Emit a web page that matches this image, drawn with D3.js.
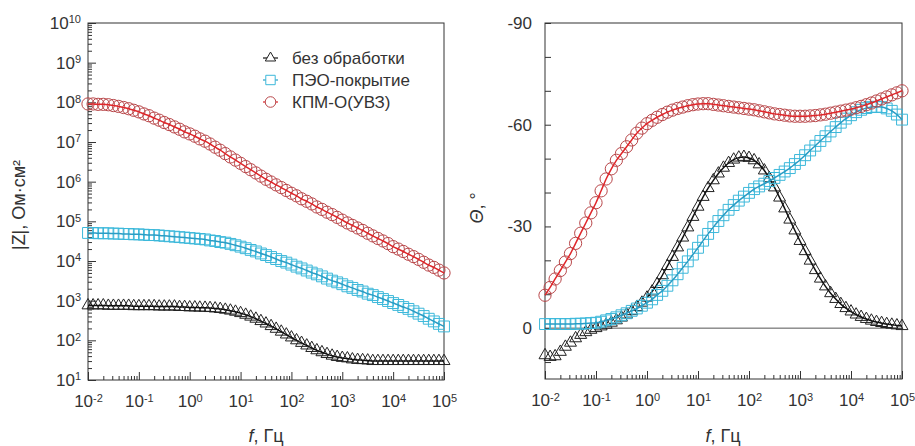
<!DOCTYPE html>
<html>
<head>
<meta charset="utf-8">
<script src="https://cdn.jsdelivr.net/npm/d3@7"></script>
<style>
  body { margin: 0; background: #fff; }
  svg { font-family: "Liberation Sans", Arial, sans-serif; }
  .frame { fill: none; stroke: #333; stroke-width: 1; }
  .axis path { stroke: none; }
  .axis line { stroke: #333; }
  .axis text { fill: #333; font-size: 17px; }
</style>
</head>
<body>
<svg id="chart" width="915" height="446"></svg>
<script>
// frequencies, Hz (10 points per decade)
var freq = [
  0.01, 0.0126, 0.0158, 0.02, 0.0251, 0.0316, 0.0398, 0.0501, 0.0631, 0.0794,
  0.1, 0.126, 0.158, 0.2, 0.251, 0.316, 0.398, 0.501, 0.631, 0.794,
  1, 1.26, 1.58, 2, 2.51, 3.16, 3.98, 5.01, 6.31, 7.94,
  10, 12.6, 15.8, 20, 25.1, 31.6, 39.8, 50.1, 63.1, 79.4,
  100, 126, 158, 200, 251, 316, 398, 501, 631, 794,
  1000, 1260, 1580, 2000, 2510, 3160, 3980, 5010, 6310, 7940,
  10000, 12600, 15800, 20000, 25100, 31600, 39800, 50100, 63100, 79400,
  100000
];

// |Z|, Ohm*cm2
var zBare = [
  760, 760, 760, 760, 740, 740, 740, 740, 740, 725,
  725, 725, 725, 725, 710, 710, 710, 710, 690, 690,
  675, 675, 665, 660, 650, 635, 615, 590, 560, 525,
  485, 440, 395, 350, 305, 265, 228, 195, 165, 140,
  118, 100, 86, 74, 64, 56, 50, 45, 41, 38,
  36, 35, 33, 32, 31.6, 31, 30, 30, 30, 30,
  30, 30, 30, 30, 30, 30, 30, 30, 30, 30,
  30
];
var zPeo = [
  5.1e4, 5.1e4, 5.0e4, 5.0e4, 5.0e4, 4.9e4, 4.9e4, 4.8e4, 4.8e4, 4.7e4,
  4.7e4, 4.6e4, 4.5e4, 4.5e4, 4.4e4, 4.3e4, 4.2e4, 4.1e4, 4.0e4, 3.9e4,
  3.8e4, 3.7e4, 3.6e4, 3.5e4, 3.3e4, 3.2e4, 3.0e4, 2.9e4, 2.7e4, 2.5e4,
  2.3e4, 2.1e4, 1.9e4, 1.74e4, 1.55e4, 1.41e4, 1.26e4, 1.12e4, 1.0e4, 9.1e3,
  8.1e3, 7.2e3, 6.5e3, 5.75e3, 5.1e3, 4.6e3, 4.1e3, 3.6e3, 3.2e3, 2.9e3,
  2.6e3, 2.3e3, 2.1e3, 1.86e3, 1.7e3, 1.5e3, 1.38e3, 1.23e3, 1.1e3, 980,
  870, 780, 690, 620, 540, 470, 410, 350, 300, 260,
  224
];
var zKpm = [
  9.1e7, 9.1e7, 8.9e7, 8.9e7, 8.7e7, 8.3e7, 7.9e7, 7.4e7, 6.9e7, 6.3e7,
  5.75e7, 5.1e7, 4.6e7, 4.0e7, 3.55e7, 3.1e7, 2.75e7, 2.4e7, 2.1e7, 1.8e7,
  1.6e7, 1.4e7, 1.2e7, 1.05e7, 8.9e6, 7.4e6, 6.2e6, 5.1e6, 4.2e6, 3.5e6,
  2.9e6, 2.4e6, 2.0e6, 1.66e6, 1.38e6, 1.15e6, 9.8e5, 8.3e5, 7.1e5, 6.0e5,
  5.1e5, 4.4e5, 3.7e5, 3.2e5, 2.75e5, 2.3e5, 2.0e5, 1.7e5, 1.48e5, 1.26e5,
  1.07e5, 9.1e4, 7.9e4, 6.8e4, 5.9e4, 5.0e4, 4.3e4, 3.7e4, 3.2e4, 2.75e4,
  2.3e4, 2.0e4, 1.74e4, 1.48e4, 1.29e4, 1.1e4, 9.3e3, 7.9e3, 6.9e3, 5.9e3,
  5.0e3
];

// phase angle, degrees
var phBare = [
  8.0, 8.5, 8.3, 7.0, 5.5, 4.3, 3.0, 2.0, 1.2, 0.5,
  0.0, -0.5, -1.0, -1.6, -2.3, -3.1, -4.0, -5.0, -6.2, -7.5,
  -9.0, -10.8, -13.0, -15.6, -18.3, -21.0, -23.8, -26.7, -29.7, -32.8,
  -35.8, -38.7, -41.3, -43.6, -45.6, -47.3, -48.7, -49.7, -50.3, -50.5,
  -50.2, -49.5, -48.3, -46.5, -44.2, -41.5, -38.5, -35.3, -32.0, -28.8,
  -25.7, -22.7, -19.9, -17.1, -14.6, -12.3, -10.3, -8.6, -7.1, -5.9,
  -4.9, -4.0, -3.3, -2.7, -2.2, -1.8, -1.5, -1.2, -1.0, -0.8,
  -0.6
];
var phPeo = [
  -1.2, -1.2, -1.2, -1.2, -1.2, -1.2, -1.3, -1.3, -1.4, -1.5,
  -1.6, -1.9, -2.3, -2.7, -3.2, -3.8, -4.4, -5.1, -5.8, -6.6,
  -7.5, -8.5, -9.8, -11.0, -12.5, -14.1, -15.9, -17.8, -19.7, -21.7,
  -23.7, -25.8, -27.8, -29.8, -31.6, -33.3, -34.9, -36.3, -37.6, -38.8,
  -39.9, -41.0, -41.8, -42.6, -43.4, -44.3, -45.2, -46.2, -47.2, -48.4,
  -49.6, -51.0, -52.4, -53.8, -55.2, -56.6, -58.0, -59.3, -60.6, -61.8,
  -62.8, -63.7, -64.4, -64.9, -65.2, -65.3, -65.2, -64.8, -64.1, -63.0,
  -61.5
];
var phKpm = [
  -9.7, -12, -14.5, -17, -19.5, -22, -25, -28, -31, -34,
  -37, -40.5, -44, -47, -49.5, -51.5, -53.5, -55.5, -57.5, -59,
  -60.3, -61.3, -62.2, -63, -63.7, -64.3, -64.8, -65.2, -65.6, -65.9,
  -66.1, -66.2, -66.2, -66.0, -65.8, -65.6, -65.4, -65.2, -65.0, -64.8,
  -64.6, -64.4, -64.1, -63.8, -63.5, -63.2, -63.0, -62.8, -62.6, -62.5,
  -62.5, -62.5, -62.6, -62.7, -62.9, -63.1, -63.4, -63.7, -64.0, -64.3,
  -64.6, -65.0, -65.4, -65.9, -66.4, -67.0, -67.6, -68.2, -68.8, -69.4,
  -70
];
var bareFitFrom = 0.8; // fit line of bare sample phase starts here (Hz)

var seriesNames = ["без обработки", "ПЭО-покрытие", "КПМ-О(УВЗ)"];

var xTicks = [1e-2, 1e-1, 1e0, 1e1, 1e2, 1e3, 1e4, 1e5];
var xTickExp = ["-2", "-1", "0", "1", "2", "3", "4", "5"];
var zTicks = [1e1, 1e2, 1e3, 1e4, 1e5, 1e6, 1e7, 1e8, 1e9, 1e10];
var zTickExp = ["1", "2", "3", "4", "5", "6", "7", "8", "9", "10"];
var phTicks = [-90, -60, -30, 0];
var phMinor = [-80, -70, -50, -40, -20, -10, 10];

var svg = d3.select("#chart");

var styles = [
  { sym: d3.symbolTriangle, size: 62, mark: "#222", line: "#111" },
  { sym: d3.symbolSquare, size: 118, mark: "#3cb8da", line: "#2a9cc4" },
  { sym: d3.symbolCircle, size: 118, mark: "#b9474a", line: "#e0262a" }
];

function supText(sel, exps) {
  sel.each(function(d, i) {
    var t = d3.select(this);
    t.text(null);
    t.append("tspan").text("10");
    t.append("tspan").attr("dy", "-0.5em").attr("font-size", 11).text(exps[i]);
  });
}

function panel(ox, oy, w, h) {
  var g = svg.append("g").attr("transform", "translate(" + ox + "," + oy + ")");
  var x = d3.scaleLog().domain([1e-2, 1e5]).range([0, w]);
  // bottom axis: majors with labels, minors without
  var xa = g.append("g").attr("class", "axis").attr("transform", "translate(0," + h + ")")
    .call(d3.axisBottom(x).tickValues(xTicks).tickSizeInner(-8).tickSizeOuter(0).tickPadding(15));
  supText(xa.selectAll(".tick text"), xTickExp);
  g.append("g").attr("class", "axis").attr("transform", "translate(0," + h + ")")
    .call(d3.axisBottom(x).tickValues(x.ticks().filter(function(v) { return xTicks.indexOf(v) < 0; }))
      .tickSizeInner(-4).tickSizeOuter(0).tickFormat(""));
  return { g: g, x: x };
}

// ---------- left panel: |Z| ----------
var L = panel(88, 23, 356, 357);
var yZ = d3.scaleLog().domain([10, 1e10]).range([357, 0]);
var ya = L.g.append("g").attr("class", "axis")
  .call(d3.axisLeft(yZ).tickValues(zTicks).tickSizeInner(-8).tickSizeOuter(0).tickPadding(7));
supText(ya.selectAll(".tick text"), zTickExp);
L.g.append("g").attr("class", "axis")
  .call(d3.axisLeft(yZ).tickValues(yZ.ticks().filter(function(v) { return zTicks.indexOf(v) < 0; }))
    .tickSizeInner(-4).tickSizeOuter(0).tickFormat(""));
L.g.append("rect").attr("class", "frame").attr("width", 356).attr("height", 357);

var zSeries = [zBare, zPeo, zKpm];
zSeries.forEach(function(vals, k) {
  var pts = freq.map(function(f, i) { return [f, vals[i]]; });
  var st = styles[k];
  L.g.append("g").selectAll("path").data(pts).enter().append("path")
    .attr("transform", function(d) { return "translate(" + L.x(d[0]) + "," + yZ(d[1]) + ")"; })
    .attr("d", d3.symbol(st.sym, st.size))
    .attr("fill", "none").attr("stroke", st.mark).attr("stroke-width", 1);
  L.g.append("path").datum(pts)
    .attr("fill", "none").attr("stroke", st.line).attr("stroke-width", 1.5)
    .attr("d", d3.line().curve(d3.curveMonotoneX)
      .x(function(d) { return L.x(d[0]); }).y(function(d) { return yZ(d[1]); }));
});

// legend
var leg = L.g.append("g").attr("transform", "translate(175,35)");
seriesNames.forEach(function(name, k) {
  var st = styles[k];
  var row = leg.append("g").attr("transform", "translate(0," + (k * 22) + ")");
  row.append("line").attr("x1", 0).attr("x2", 15).attr("stroke", st.line).attr("stroke-width", 1.2);
  row.append("path").attr("transform", "translate(7.5,0)").attr("d", d3.symbol(st.sym, st.size * 0.75))
    .attr("fill", "#fff").attr("stroke", st.mark);
  row.append("text").attr("x", 29).attr("dy", "0.35em").attr("font-size", 17).attr("fill", "#333").text(name);
});

// ---------- right panel: phase ----------
var R = panel(545, 23, 357, 356);
var yP = d3.scaleLinear().domain([15, -90]).range([356, 0]);
R.g.append("g").attr("class", "axis")
  .call(d3.axisLeft(yP).tickValues(phTicks).tickSizeInner(-6).tickSizeOuter(0).tickPadding(13)
    .tickFormat(function(d) { return d === 0 ? "0" : "-" + Math.abs(d); }))
  .selectAll("text").attr("font-size", 16);
R.g.append("g").attr("class", "axis")
  .call(d3.axisLeft(yP).tickValues(phMinor).tickSizeInner(-6).tickSizeOuter(0).tickFormat(""));
R.g.append("line").attr("x1", 0).attr("x2", 357).attr("y1", yP(0)).attr("y2", yP(0))
  .attr("stroke", "#555").attr("stroke-width", 1);
R.g.append("rect").attr("class", "frame").attr("width", 357).attr("height", 356);

var phSeries = [phBare, phPeo, phKpm];
phSeries.forEach(function(vals, k) {
  var pts = freq.map(function(f, i) { return [f, vals[i]]; });
  var st = styles[k];
  R.g.append("g").selectAll("path").data(pts).enter().append("path")
    .attr("transform", function(d) { return "translate(" + R.x(d[0]) + "," + yP(d[1]) + ")"; })
    .attr("d", d3.symbol(st.sym, st.size))
    .attr("fill", "none").attr("stroke", st.mark).attr("stroke-width", 1);
  var fit = k === 0 ? pts.filter(function(d) { return d[0] >= bareFitFrom; }) : pts;
  R.g.append("path").datum(fit)
    .attr("fill", "none").attr("stroke", st.line).attr("stroke-width", 1.5)
    .attr("d", d3.line().curve(d3.curveMonotoneX)
      .x(function(d) { return R.x(d[0]); }).y(function(d) { return yP(d[1]); }));
});

// ---------- axis titles ----------
function fTitle(cx) {
  var t = svg.append("text").attr("x", cx).attr("y", 442).attr("text-anchor", "middle")
    .attr("font-size", 18).attr("fill", "#333");
  t.append("tspan").attr("font-style", "italic").text("f");
  t.append("tspan").text(", Гц");
}
fTitle(266);
fTitle(723);

svg.append("text").attr("transform", "translate(25,205) rotate(-90)").attr("text-anchor", "middle")
  .attr("font-size", 18).attr("fill", "#333").text("|Z|, Ом·см²");
var th = svg.append("text").attr("transform", "translate(483,208) rotate(-90)").attr("text-anchor", "middle")
  .attr("font-size", 18).attr("fill", "#333");
th.append("tspan").attr("font-style", "italic").text("Θ");
th.append("tspan").text(", °");
</script>
</body>
</html>
